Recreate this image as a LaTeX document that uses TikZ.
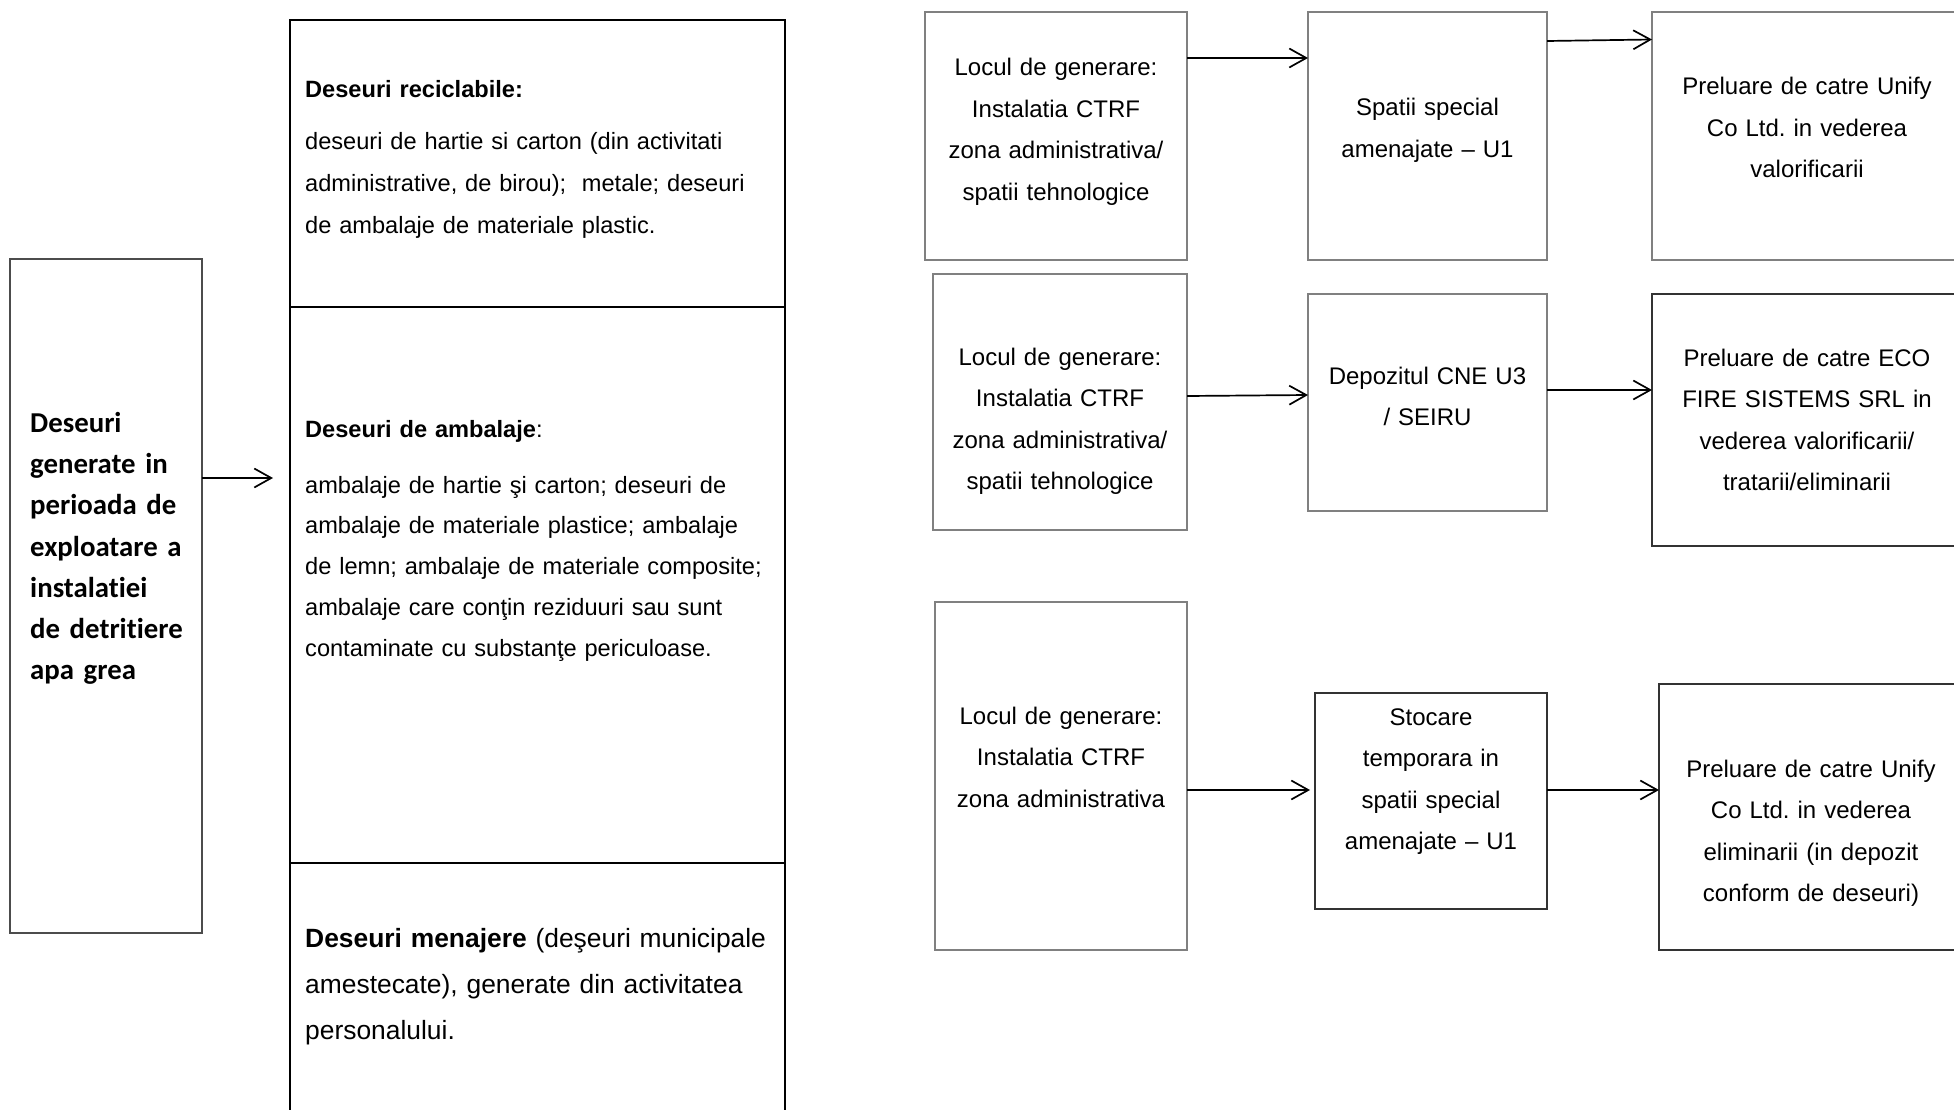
\documentclass[tikz,border=0pt]{standalone}
\usepackage{fontspec}
\setmainfont{Liberation Sans}
\newfontfamily\calibrifont[Ligatures={NoCommon}]{Carlito}
\usetikzlibrary{arrows.meta,backgrounds}
\begin{document}
\frenchspacing
\begin{tikzpicture}[x=1pt,y=-1pt,
  gbox/.style={rectangle, draw=black!50, line width=1.5pt, fill=white, inner sep=0pt, outer sep=0pt, anchor=north west},
  dbox/.style={gbox, draw=black!80},
  mbox/.style={rectangle, draw=black, line width=2pt, inner sep=0pt, outer sep=0pt, anchor=north west},
  sbox/.style={rectangle, draw=black!70, line width=1.3pt, fill=white, inner sep=0pt, outer sep=0pt, anchor=north west},
  arr/.style={line width=1.7pt, -{Straight Barb[length=17pt,width=19pt]}},
  ctext/.style={inner sep=0pt, anchor=base, align=center, font=\fontsize{24}{41.5}\selectfont},
  ltext/.style={inner sep=0pt, anchor=base west, align=left, text width=475pt, font=\fontsize{23.6}{41.5}\selectfont},
]
\clip (0,0) rectangle (1954,1110);
\fill[white] (0,0) rectangle (1954,1110);

% boxes
\node[sbox, minimum width=192pt, minimum height=674pt] (src) at (10,259) {};
\node[mbox, minimum width=495pt, minimum height=287pt] (rec) at (290,20) {};
\node[mbox, minimum width=495pt, minimum height=556pt] (amb) at (290,307) {};
\node[mbox, minimum width=495pt, minimum height=270pt] (men) at (290,863) {};

\node[gbox, minimum width=262pt, minimum height=248pt] (b1) at (925,12) {};
\node[gbox, minimum width=254pt, minimum height=256pt] (b2) at (933,274) {};
\node[gbox, minimum width=252pt, minimum height=348pt] (b3) at (935,602) {};

\node[gbox, minimum width=239pt, minimum height=248pt] (c1) at (1308,12) {};
\node[gbox, minimum width=239pt, minimum height=217pt] (c2) at (1308,294) {};
\node[dbox, minimum width=232pt, minimum height=216pt] (c3) at (1315,693) {};

\node[gbox, minimum width=320pt, minimum height=248pt] (d1) at (1652,12) {};
\node[dbox, minimum width=320pt, minimum height=252pt] (d2) at (1652,294) {};
\node[dbox, minimum width=320pt, minimum height=266pt] (d3) at (1659,684) {};

% texts
\node[inner sep=0pt, anchor=base west, align=left, text width=170pt,
      font=\calibrifont\bfseries\fontsize{28.8}{41.2}\selectfont] (srct) at (30,432.5)
  {Deseuri\\generate in\\perioada de\\exploatare a\\instalatiei\\de detritiere\\apa grea};

\node[ltext] (rech) at (305,98) {\textbf{Deseuri reciclabile:}};
\node[ltext, font=\fontsize{23.6}{42}\selectfont] (recb) at (305,150)
  {deseuri de hartie si carton (din activitati\\administrative, de birou);~ metale; deseuri\\de ambalaje de materiale plastic.};

\node[ltext] (ambh) at (305,437) {\textbf{Deseuri de ambalaje}:};
\node[ltext, font=\fontsize{23.6}{40.8}\selectfont] (ambb) at (305,493)
  {ambalaje de hartie şi carton; deseuri de\\ambalaje de materiale plastice; ambalaje\\de lemn; ambalaje de materiale composite;\\ambalaje care conţin reziduuri sau sunt\\contaminate cu substanţe periculoase.};

\node[ltext, font=\fontsize{26.4}{46.4}\selectfont] (ment) at (305,947)
  {\textbf{Deseuri menajere} (deşeuri municipale\\amestecate), generate din activitatea\\personalului.};

\node[ctext, text width=250pt] (b1t) at (1056,76)
  {Locul de generare:\\Instalatia CTRF\\zona administrativa/\\spatii tehnologice};
\node[ctext, text width=250pt] (b2t) at (1060,365)
  {Locul de generare:\\Instalatia CTRF\\zona administrativa/\\spatii tehnologice};
\node[ctext, text width=250pt] (b3t) at (1061,724)
  {Locul de generare:\\Instalatia CTRF\\zona administrativa};

\node[ctext, text width=225pt] (c1t) at (1427.5,116) {Spatii special\\amenajate – U1};
\node[ctext, text width=225pt] (c2t) at (1427.5,384) {Depozitul CNE U3\\/ SEIRU};
\node[ctext, text width=225pt] (c3t) at (1431,725) {Stocare\\temporara in\\spatii special\\amenajate – U1};

\node[ctext, text width=290pt] (d1t) at (1807,95) {Preluare de catre Unify\\Co Ltd. in vederea\\valorificarii};
\node[ctext, text width=290pt] (d2t) at (1807,366) {Preluare de catre ECO\\FIRE SISTEMS SRL in\\vederea valorificarii/\\tratarii/eliminarii};
\node[ctext, text width=290pt] (d3t) at (1811,777) {Preluare de catre Unify\\Co Ltd. in vederea\\eliminarii (in depozit\\conform de deseuri)};

% connectors
\coordinate (srcend) at (273,478);
\draw[arr] (src.east |- srcend) -- (srcend);

\begin{pgfonlayer}{background}
\draw[arr, shorten >=-13pt] (rec.east |- 0,195.5) -- (b1.west |- 0,195.5);
\draw[arr, shorten >=-13pt] (amb.east |- 0,518.5) -- (b2.west |- 0,516.5);
\draw[arr, shorten >=-13pt] (men.east |- 0,907.5) -- (b3.west |- 0,907.5);
\end{pgfonlayer}

\draw[arr] (b1.east |- 0,58) -- (c1.west |- 0,58);
\draw[arr] (b2.east |- 0,396) -- (c2.west |- 0,395);
\draw[arr, shorten >=5pt] (b3.east |- 0,790) -- (c3.west |- 0,790);

\draw[arr] (c1.east |- 0,41) -- (d1.west |- 0,39.5);
\draw[arr] (c2.east |- 0,390) -- (d2.west |- 0,390);
\draw[arr] (c3.east |- 0,790) -- (d3.west |- 0,790);
\end{tikzpicture}
\end{document}
